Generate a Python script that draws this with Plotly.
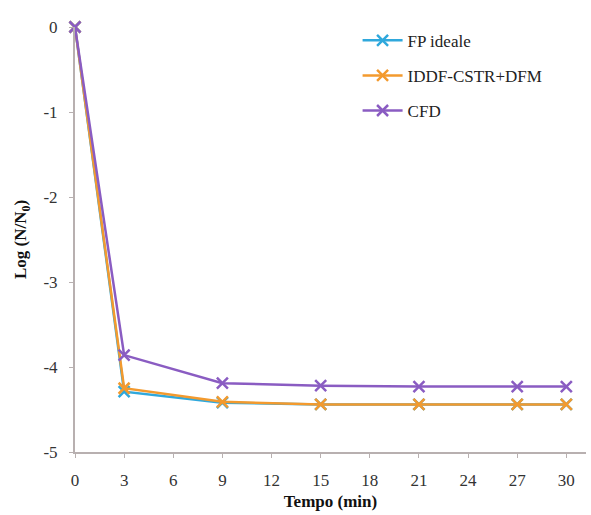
import plotly.graph_objects as go

tempo = [0, 3, 9, 15, 21, 27, 30]
fp_ideale = [0, -4.29, -4.42, -4.44, -4.44, -4.44, -4.44]
iddf = [0, -4.25, -4.41, -4.44, -4.44, -4.44, -4.44]
cfd = [0, -3.86, -4.19, -4.22, -4.23, -4.23, -4.23]
xticks = [0, 3, 6, 9, 12, 15, 18, 21, 24, 27, 30]
yticks = [0, -1, -2, -3, -4, -5]
ytick_labels = ["0", "-1", "-2", "-3", "-4", "-5"]

font = "Liberation Serif"
fig = go.Figure()
for name, vals, col in [("FP ideale", fp_ideale, "#2fa8dc"),
                        ("IDDF-CSTR+DFM", iddf, "#f39a2e"),
                        ("CFD", cfd, "#8a5cc2")]:
    fig.add_trace(go.Scatter(x=tempo, y=vals, name=name, mode="lines+markers",
                             legendgroup=name,
                             line=dict(color=col, width=2.5),
                             marker=dict(symbol="x-thin", size=11,
                                         line=dict(color=col, width=2.5)),
                             cliponaxis=False))

fig.update_layout(
    width=591, height=515,
    margin=dict(l=75, r=5, t=27, b=63),
    paper_bgcolor="white", plot_bgcolor="white",
    font=dict(family=font, size=16, color="#333"),
    showlegend=True,
    legend=dict(x=0.553, y=1.01, xanchor="left", yanchor="top",
                font=dict(family=font, size=17, color="#222"),
                tracegroupgap=10, itemwidth=40, bgcolor="rgba(0,0,0,0)"),
    xaxis=dict(range=[0, 31.2], tickvals=xticks, showline=True,
               linecolor="#b8b0b0", linewidth=2, ticks="outside",
               tickcolor="#b8b0b0", ticklen=4, showgrid=False, zeroline=False,
               ticklabelstandoff=8,
               tickfont=dict(family=font, size=17, color="#333"),
               title=dict(text="<b>Tempo (min)</b>", standoff=6,
                          font=dict(family=font, size=17, color="#111"))),
    yaxis=dict(range=[-5, 0], tickvals=yticks, ticktext=ytick_labels,
               showline=True,
               linecolor="#b8b0b0", linewidth=2, ticks="outside",
               tickcolor="#b8b0b0", ticklen=4, showgrid=False, zeroline=False,
               ticklabelstandoff=8,
               tickfont=dict(family=font, size=17, color="#333"),
               title=dict(text="<b>Log (N/N<sub>0</sub>)</b>", standoff=12,
                          font=dict(family=font, size=17, color="#111"))),
)
fig.write_html("out.html")
